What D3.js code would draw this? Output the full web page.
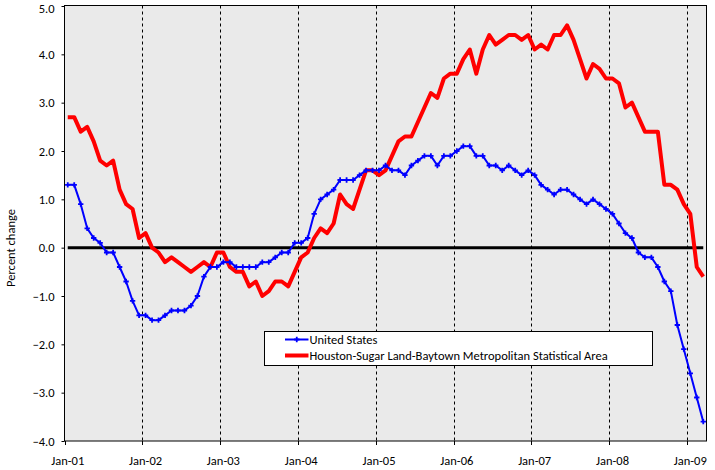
<!DOCTYPE html>
<html>
<head>
<meta charset="utf-8">
<script src="https://cdn.jsdelivr.net/npm/d3@7/dist/d3.min.js"></script>
<style>
  html, body { margin: 0; padding: 0; background: #ffffff; }
  svg { display: block; }
  text { font-family: Carlito, Lato, "Liberation Sans", sans-serif; fill: #000; }
</style>
</head>
<body>
<svg id="chart" width="715" height="470"></svg>
<script>
// ---- Data (monthly, Jan-01 .. Mar-09) ----
const tickLabels = ["Jan-01","Jan-02","Jan-03","Jan-04","Jan-05","Jan-06","Jan-07","Jan-08","Jan-09"];
const yTicks = [5.0, 4.0, 3.0, 2.0, 1.0, 0.0, -1.0, -2.0, -3.0, -4.0];
const seriesNames = ["United States", "Houston-Sugar Land-Baytown Metropolitan Statistical Area"];

const unitedStates = [
  1.3, 1.3, 0.9, 0.4, 0.2, 0.1, -0.1, -0.1, -0.4, -0.7, -1.1, -1.4,
  -1.4, -1.5, -1.5, -1.4, -1.3, -1.3, -1.3, -1.2, -1.0, -0.6, -0.4, -0.4,
  -0.3, -0.3, -0.4, -0.4, -0.4, -0.4, -0.3, -0.3, -0.2, -0.1, -0.1, 0.1,
  0.1, 0.2, 0.7, 1.0, 1.1, 1.2, 1.4, 1.4, 1.4, 1.5, 1.6, 1.6,
  1.6, 1.7, 1.6, 1.6, 1.5, 1.7, 1.8, 1.9, 1.9, 1.7, 1.9, 1.9,
  2.0, 2.1, 2.1, 1.9, 1.9, 1.7, 1.7, 1.6, 1.7, 1.6, 1.5, 1.6,
  1.5, 1.3, 1.2, 1.1, 1.2, 1.2, 1.1, 1.0, 0.9, 1.0, 0.9, 0.8,
  0.7, 0.5, 0.3, 0.2, -0.1, -0.2, -0.2, -0.4, -0.7, -0.9, -1.6, -2.1,
  -2.6, -3.1, -3.6
];

const houston = [
  2.7, 2.7, 2.4, 2.5, 2.2, 1.8, 1.7, 1.8, 1.2, 0.9, 0.8, 0.2,
  0.3, 0.0, -0.1, -0.3, -0.2, -0.3, -0.4, -0.5, -0.4, -0.3, -0.4, -0.1,
  -0.1, -0.4, -0.5, -0.5, -0.8, -0.7, -1.0, -0.9, -0.7, -0.7, -0.8, -0.5,
  -0.2, -0.1, 0.2, 0.4, 0.3, 0.5, 1.1, 0.9, 0.8, 1.2, 1.6, 1.6,
  1.5, 1.6, 1.9, 2.2, 2.3, 2.3, 2.6, 2.9, 3.2, 3.1, 3.5, 3.6,
  3.6, 3.9, 4.1, 3.6, 4.1, 4.4, 4.2, 4.3, 4.4, 4.4, 4.3, 4.4,
  4.1, 4.2, 4.1, 4.4, 4.4, 4.6, 4.3, 3.9, 3.5, 3.8, 3.7, 3.5,
  3.5, 3.4, 2.9, 3.0, 2.7, 2.4, 2.4, 2.4, 1.3, 1.3, 1.2, 0.9,
  0.7, -0.4, -0.6
];

// ---- Layout ----
const FS = "12.5px";
const plot = { left: 64.5, right: 706.5, top: 5.5, bottom: 441 };
const nMonths = unitedStates.length;          // 99 months
const months = d3.range(nMonths);              // month index from Jan-01

const svg = d3.select("#chart");

const x = d3.scaleLinear().domain([0, nMonths]).range([plot.left, plot.right]);
const y = d3.scaleLinear().domain([-4, 5]).range([plot.bottom, plot.top + 0.5]);
const xc = i => x(i + 0.5);   // category centre

// plot background
svg.append("rect")
  .attr("x", plot.left).attr("y", plot.top)
  .attr("width", plot.right - plot.left).attr("height", plot.bottom - plot.top)
  .attr("fill", "#eaeaea");

// vertical dashed gridlines at each January (except first)
const janIdx = tickLabels.map((d, k) => k * 12);
svg.append("g").selectAll("line")
  .data(janIdx.slice(1))
  .join("line")
  .attr("x1", d => Math.round(x(d)) + 0.5).attr("x2", d => Math.round(x(d)) + 0.5)
  .attr("y1", plot.top).attr("y2", plot.bottom)
  .attr("stroke", "#000").attr("stroke-width", 1)
  .attr("stroke-dasharray", "3,3");

// x axis (bottom) ticks
const xAxis = d3.axisBottom(x).tickValues(janIdx).tickSize(4).tickFormat("");
const gx = svg.append("g").attr("transform", `translate(0,${plot.bottom})`).call(xAxis);
gx.select(".domain").remove();
gx.selectAll(".tick line").attr("stroke", "#000");
gx.selectAll(".tick").attr("transform", d => `translate(${Math.round(x(d)) + 0.5},0)`);

// x labels centred on the January data point
svg.append("g").selectAll("text")
  .data(tickLabels)
  .join("text")
  .attr("x", (d, k) => xc(k * 12))
  .attr("y", 464.5)
  .attr("text-anchor", "middle")
  .attr("font-size", FS)
  .text(d => d);

// y axis
const yAxis = d3.axisLeft(y).tickValues(yTicks).tickSize(3).tickFormat(d3.format(".1f"));
const gy = svg.append("g").attr("transform", `translate(${plot.left},0)`).call(yAxis);
gy.select(".domain").remove();
gy.selectAll(".tick line").attr("stroke", "#000");
gy.selectAll(".tick text")
  .attr("x", -10)
  .attr("dy", d => d === 5 ? "0.5em" : "0.34em")
  .attr("font-size", FS)
  .attr("font-family", "Carlito, Lato, 'Liberation Sans', sans-serif")
  .attr("fill", "#000");

// plot border
svg.append("rect")
  .attr("x", plot.left).attr("y", plot.top)
  .attr("width", plot.right - plot.left).attr("height", plot.bottom - plot.top)
  .attr("fill", "none").attr("stroke", "#000").attr("stroke-width", 1);

// zero line
const zeroLine = d3.line().x(d => xc(d)).y(() => y(0));
svg.append("path")
  .attr("d", zeroLine(months))
  .attr("fill", "none").attr("stroke", "#000").attr("stroke-width", 3);

// Houston series
const line = vals => d3.line().x((d, i) => xc(i)).y(d => y(d))(vals);
svg.append("path")
  .attr("d", line(houston))
  .attr("fill", "none").attr("stroke", "#ff0000").attr("stroke-width", 4)
  .attr("stroke-linejoin", "round");

// US series
svg.append("path")
  .attr("d", line(unitedStates))
  .attr("fill", "none").attr("stroke", "#0000ff").attr("stroke-width", 2)
  .attr("stroke-linejoin", "round");
const marker = d3.symbol().type(d3.symbolCross).size(16);
svg.append("g").selectAll("path")
  .data(unitedStates)
  .join("path")
  .attr("transform", (d, i) => `translate(${xc(i)},${y(d)})`)
  .attr("d", marker)
  .attr("fill", "#0000ff");

// y axis title
svg.append("text")
  .attr("transform", `translate(15,248) rotate(-90)`)
  .attr("text-anchor", "middle")
  .attr("font-size", FS)
  .text("Percent change");

// legend
const lg = svg.append("g");
lg.append("rect")
  .attr("x", 264.5).attr("y", 331.5).attr("width", 388).attr("height", 34)
  .attr("fill", "#fff").attr("stroke", "#000").attr("stroke-width", 1);
const legendRows = [
  { name: seriesNames[0], color: "#0000ff", w: 2, marker: true, y: 339.5 },
  { name: seriesNames[1], color: "#ff0000", w: 4, marker: false, y: 355.5 }
];
legendRows.forEach(r => {
  lg.append("line")
    .attr("x1", 285).attr("x2", 308.5).attr("y1", r.y).attr("y2", r.y)
    .attr("stroke", r.color).attr("stroke-width", r.w);
  if (r.marker) {
    lg.append("path").attr("transform", `translate(296.75,${r.y})`)
      .attr("d", marker).attr("fill", r.color);
  }
  lg.append("text")
    .attr("x", 309.5).attr("y", r.y + 4.5)
    .attr("font-size", FS)
    .text(r.name);
});
</script>
</body>
</html>
